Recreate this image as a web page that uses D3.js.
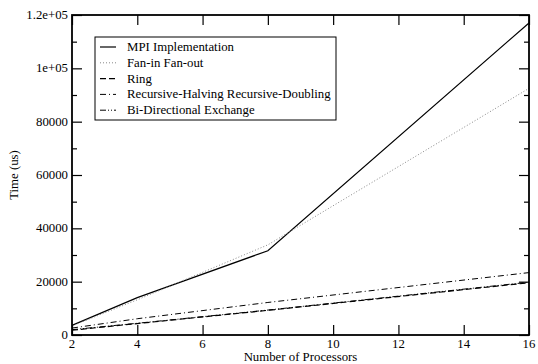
<!DOCTYPE html>
<html>
<head>
<meta charset="utf-8">
<script src="https://cdn.jsdelivr.net/npm/d3@7"></script>
<style>
body { margin: 0; background: #fff; }
</style>
</head>
<body>
<div id="viz"></div>
<script>
var w = 538;
var h = 364;
var margin = {top: 15, right: 9, bottom: 29, left: 72};
var font = "'Liberation Serif', 'DejaVu Serif', serif";
var fs = 12.8;

// data
var procs = [2, 4, 8, 16];
var mpi = [3600, 14000, 31600, 117000];
var fanInOut = [3400, 13200, 33800, 92500];
var ring = [1800, 4300, 9250, 19600];
var rhrd = [2600, 6100, 12200, 23400];
var bde = [2000, 4400, 9350, 19800];

var seriesNames = ["MPI Implementation", "Fan-in Fan-out", "Ring",
    "Recursive-Halving Recursive-Doubling", "Bi-Directional Exchange"];
var seriesValues = [mpi, fanInOut, ring, rhrd, bde];
var xTicks = [2, 4, 6, 8, 10, 12, 14, 16];
var yTicks = [0, 20000, 40000, 60000, 80000, 100000, 120000];
var yTickLabels = ["0", "20000", "40000", "60000", "80000", "1e+05", "1.2e+05"];

var styles = [
    {stroke: "#000", dash: null, width: 1.2},
    {stroke: "#888", dash: "1,2", width: 1},
    {stroke: "#000", dash: "6,3", width: 1.2},
    {stroke: "#000", dash: "6,3,1,3", width: 1},
    {stroke: "#000", dash: "6,2,1,2,1,2", width: 1}
];

var svg = d3.select("#viz")
    .append("svg")
    .attr("width", w)
    .attr("height", h)
    .style("font-family", font);

var x = d3.scaleLinear().domain([2, 16]).range([margin.left, w - margin.right]);
var y = d3.scaleLinear().domain([0, 120000]).range([h - margin.bottom, margin.top]);

// lines
var line = d3.line()
    .x(function(d, i) { return x(procs[i]); })
    .y(function(d) { return y(d); });

svg.selectAll("path.series")
    .data(seriesValues)
    .enter()
    .append("path")
    .attr("class", "series")
    .attr("d", line)
    .attr("fill", "none")
    .attr("stroke", function(d, i) { return styles[i].stroke; })
    .attr("stroke-width", function(d, i) { return styles[i].width; })
    .attr("stroke-dasharray", function(d, i) { return styles[i].dash; });

// axes, ticks point inward
var x0 = margin.left, x1 = w - margin.right;
var y0 = h - margin.bottom, y1 = margin.top;

function noDomain(g) { g.select(".domain").remove(); }

svg.append("g")
    .attr("transform", "translate(0," + y0 + ")")
    .call(d3.axisBottom(x).tickValues(xTicks).tickSize(-10).tickFormat(""))
    .call(noDomain);
svg.append("g")
    .attr("transform", "translate(0," + y1 + ")")
    .call(d3.axisTop(x).tickValues(xTicks).tickSize(-10).tickFormat(""))
    .call(noDomain);
svg.append("g")
    .attr("transform", "translate(" + x0 + ",0)")
    .call(d3.axisLeft(y).tickValues(yTicks).tickSize(-10).tickFormat(""))
    .call(noDomain);
svg.append("g")
    .attr("transform", "translate(" + x1 + ",0)")
    .call(d3.axisRight(y).tickValues(yTicks).tickSize(-10).tickFormat(""))
    .call(noDomain);

var minorY = d3.range(10000, 120000, 20000);
svg.append("g")
    .attr("transform", "translate(" + x0 + ",0)")
    .call(d3.axisLeft(y).tickValues(minorY).tickSize(-5).tickFormat(""))
    .call(noDomain);
svg.append("g")
    .attr("transform", "translate(" + x1 + ",0)")
    .call(d3.axisRight(y).tickValues(minorY).tickSize(-5).tickFormat(""))
    .call(noDomain);

svg.selectAll(".tick line").attr("stroke", "#000").attr("stroke-width", 1.2);

svg.append("rect")
    .attr("x", x0).attr("y", y1)
    .attr("width", x1 - x0).attr("height", y0 - y1)
    .attr("fill", "none")
    .attr("stroke", "#000")
    .attr("stroke-width", 1.8);

// tick labels
svg.selectAll("text.xlab")
    .data(xTicks)
    .enter()
    .append("text")
    .attr("class", "xlab")
    .attr("x", function(d) { return x(d); })
    .attr("y", y0 + 13)
    .attr("text-anchor", "middle")
    .attr("font-family", font)
    .attr("font-size", fs)
    .text(function(d) { return d; });

svg.selectAll("text.ylab")
    .data(yTicks)
    .enter()
    .append("text")
    .attr("class", "ylab")
    .attr("x", x0 - 4)
    .attr("y", function(d) { return y(d) + 4; })
    .attr("text-anchor", "end")
    .attr("font-family", font)
    .attr("font-size", fs)
    .text(function(d, i) { return yTickLabels[i]; });

svg.append("text")
    .attr("x", (x0 + x1) / 2)
    .attr("y", h - 3)
    .attr("text-anchor", "middle")
    .attr("font-family", font)
    .attr("font-size", fs)
    .text("Number of Processors");

svg.append("text")
    .attr("transform", "translate(18," + ((y0 + y1) / 2) + ") rotate(-90)")
    .attr("text-anchor", "middle")
    .attr("font-family", font)
    .attr("font-size", fs)
    .text("Time (us)");

// legend
var legend = svg.append("g");
legend.append("rect")
    .attr("x", 95).attr("y", 37)
    .attr("width", 241).attr("height", 83)
    .attr("fill", "#fff")
    .attr("stroke", "#000")
    .attr("stroke-width", 1);

var rows = legend.selectAll("g.row")
    .data(seriesNames)
    .enter()
    .append("g")
    .attr("class", "row")
    .attr("transform", function(d, i) { return "translate(0," + (47 + i * 15.8) + ")"; });

rows.append("line")
    .attr("x1", 100).attr("x2", 116)
    .attr("y1", 0).attr("y2", 0)
    .attr("stroke", function(d, i) { return styles[i].stroke; })
    .attr("stroke-width", function(d, i) { return styles[i].width; })
    .attr("stroke-dasharray", function(d, i) { return styles[i].dash; });

rows.append("text")
    .attr("x", 127)
    .attr("y", 4)
    .attr("font-family", font)
    .attr("font-size", fs)
    .text(function(d) { return d; });
</script>
</body>
</html>
